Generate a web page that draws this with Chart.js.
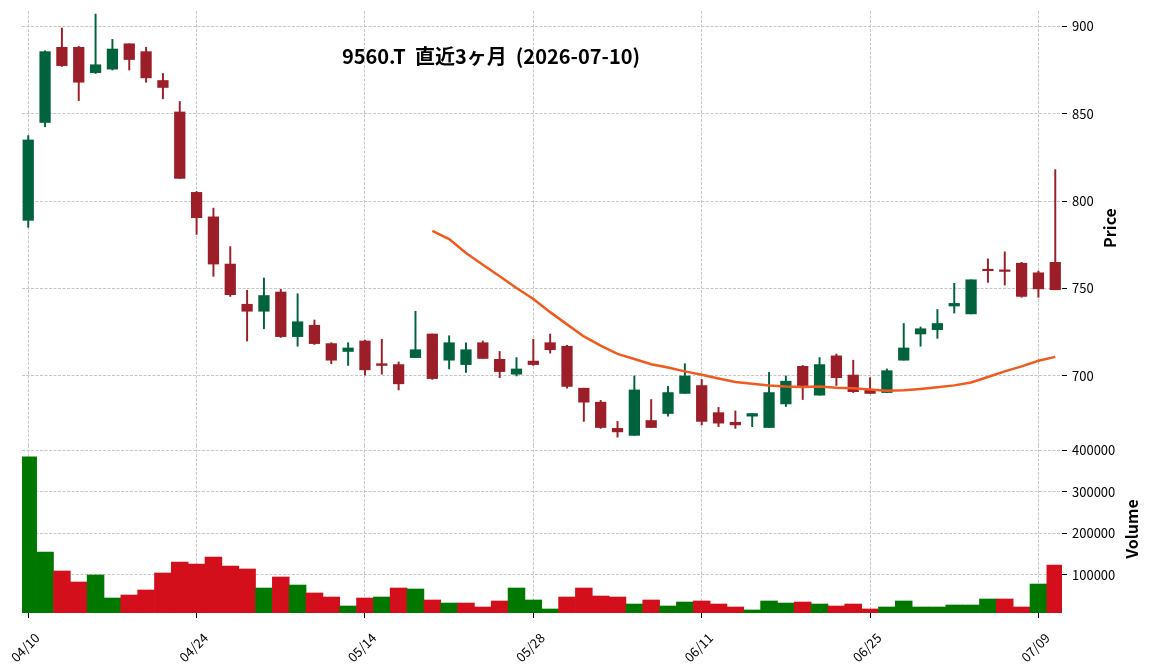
<!DOCTYPE html>
<html><head><meta charset="utf-8">
<script src="https://cdn.jsdelivr.net/npm/chart.js@4.4.1/dist/chart.umd.min.js"></script>
<style>
html,body{margin:0;padding:0;background:#fff;}
#wrap{position:relative;width:1152px;height:670px;overflow:hidden;background:#fff;}
canvas{position:absolute;left:0;}
#c1{top:0;}
#c2{top:430px;}
</style></head><body>
<div id="wrap"><canvas id="c1" width="1152" height="445"></canvas><canvas id="c2" width="1152" height="240"></canvas></div>
<script>
const titleText = '9560.T  直近3ヶ月  (2026-07-10)';
const dates = ['04/10','04/13','04/14','04/15','04/16','04/17','04/20','04/21','04/22','04/23','04/24',
 '04/27','04/28','04/30','05/01','05/07','05/08','05/11','05/12','05/13','05/14',
 '05/15','05/18','05/19','05/20','05/21','05/22','05/25','05/26','05/27','05/28',
 '05/29','06/01','06/02','06/03','06/04','06/05','06/08','06/09','06/10','06/11',
 '06/12','06/15','06/16','06/17','06/18','06/19','06/22','06/23','06/24','06/25',
 '06/26','06/29','06/30','07/01','07/02','07/03','07/06','07/07','07/08','07/09','07/10'];
const opens  = [789,845,888,888,873.5,875.5,890,885.5,869,851,805,791,764,741,737,748,722.5,729,718.5,714,720,707,706.5,710.5,724,709,706.5,719,709.5,701,708.5,719,717,693,685,670,666,674.5,678.5,690,694.5,679,673.5,677,670.5,684,705.5,689,711.5,700.5,692,690.5,709,724,726.5,740,735.5,760.8,760.5,764.5,759,765];
const highs  = [837.5,886,899,888.5,907,892.5,890,888,873,857,805.5,796,774,749,756,749.5,747,732,719,719,720.5,721,708,737,724,723,719,720,714,710.5,721,724,717.5,693,686,674,700,686.5,694,707,698,682,680,678.5,702,700,706,710.5,712.5,709,699,704,730,728,738,753,755,767,771,765,760,818];
const lows   = [785,842.5,877,857.5,873,875,875,868,858.5,813,781,757,745.5,720,727,722,717,718,707,706,700.5,701,692,710.5,698,704,702,710,699,700,706,713,693,674,670,665,666,670.5,677,690,672,671,670,671,670.5,682.5,686.5,689,694.5,690.5,690,690.5,709,717,721.5,736,735.5,753.5,752,745,745,749.3];
const closes = [835,885.5,877.5,868,878,887,881,870.5,865,813,790.5,764,746.5,737,746,722.5,731,718.5,709,716,703.5,706,695.5,715,698.5,719,715,710,702.5,704,706.5,715,694,685,670.5,668,692,670.5,690.5,700,674,673,672,678.5,690.5,697,694.5,706.5,699,691,690,703,716,727,730,741.5,755,760.2,759.8,745.5,749.8,749.3];
const volumes = [384000,154800,108900,82400,99300,43800,51000,63100,104100,130600,125800,142700,121000,113800,67900,94500,75100,55900,46200,24500,43800,46200,67900,65500,39000,31700,31700,22100,36600,67900,39000,17300,46200,67900,48600,46200,29300,39000,24500,34100,36600,29300,22100,14900,36600,31700,34100,29300,24500,29300,17300,22100,36600,22100,22100,26900,26900,41400,41400,22100,77500,123400];
const ma25 = [null,null,null,null,null,null,null,null,null,null,null,null,null,null,null,null,null,null,null,null,null,null,null,null,
 783,778.3,770.3,763.6,757,750.3,744,736.5,729.5,722.6,717.3,712.6,709.7,706.7,704.8,702.6,700.7,698.5,696.5,695.6,694.6,694,693.7,694,693.3,693,692.2,691.6,691.8,692.6,693.5,694.6,696.3,699.4,702.6,705.5,708.7,710.9];
const xTickIdx = [0,10,20,30,40,50,60];
const priceTicks = [700,750,800,850,900];
const volTicks = [100000,200000,300000,400000];

const FONT = '"Noto Sans CJK JP", "Noto Sans", sans-serif';
const UP = '#00633d', DOWN = '#9c1e29', VUP = '#007800', VDOWN = '#d40f1c', MA = '#f15a1e';
const GRID = '#c6c6c6';
const candleCol = opens.map((o,i)=> closes[i] > o ? UP : DOWN);
const volCol = volumes.map((v,i)=> i===0 ? (closes[0]>=opens[0]?VUP:VDOWN) : (closes[i] >= closes[i-1] ? VUP : VDOWN));

function fixW(w){ return s => { s.width = w; s.paddingTop=0; s.paddingBottom=0; s.paddingLeft=0; s.paddingRight=0; }; }
function fixH(h){ return s => { s.height = h; s.paddingTop=0; s.paddingBottom=0; s.paddingLeft=0; s.paddingRight=0; }; }
function setTicks(arr){ return s => { s.ticks = arr.map(v=>({value:v})); }; }

const XMIN = -0.37, XMAX = 61.4;

function draw(){
  Chart.defaults.font.family = FONT;
  Chart.defaults.font.size = 13;
  Chart.defaults.color = '#000';

  const txt1 = { id:'txt1', afterDraw(chart){
    const c = chart.ctx; c.save(); c.fillStyle = '#000';
    c.font = 'bold 20px ' + FONT; c.textAlign = 'center'; c.textBaseline = 'middle';
    c.fillText(titleText, 491, 56);
    c.translate(1110, 228); c.rotate(-Math.PI/2);
    c.font = 'bold 16px ' + FONT; c.fillText('Price', 0, 0);
    c.restore();
  }};
  const txt2 = { id:'txt2', afterDraw(chart){
    const c = chart.ctx; c.save(); c.fillStyle = '#000';
    c.translate(1132, 99); c.rotate(-Math.PI/2);
    c.font = 'bold 16px ' + FONT; c.textAlign = 'center'; c.textBaseline = 'middle';
    c.fillText('Volume', 0, 0);
    c.restore();
  }};

  new Chart(document.getElementById('c1'), {
    type: 'bar',
    data: { datasets: [
      { type:'line', data: ma25.map((v,i)=>({x:i,y:v})), borderColor: MA, borderWidth: 2.5, pointRadius: 0, tension: 0, order: 1, spanGaps: false },
      { type:'bar', data: opens.map((o,i)=>({x:i,y:[o,closes[i]]})), backgroundColor: candleCol, barThickness: 10.6, minBarLength: 1.5, grouped: false, order: 2 },
      { type:'bar', data: lows.map((l,i)=>({x:i,y:[l,highs[i]]})), backgroundColor: candleCol, barThickness: 1.3, grouped: false, order: 3 }
    ]},
    options: {
      responsive: false, animation: false, devicePixelRatio: 1,
      layout: { padding: { left: 22, top: 11, right: 0, bottom: 0 } },
      plugins: { legend: { display: false }, tooltip: { enabled: false } },
      scales: {
        x: { type: 'linear', offset: false, min: XMIN, max: XMAX, afterFit: fixH(0), afterBuildTicks: setTicks(xTickIdx),
             ticks: { display: false }, grid: { offset: false, color: GRID, lineWidth: 1, drawTicks: false }, border: { display: false, dash: [3,1.5] } },
        y: { type: 'linear', position: 'right', min: 660.5, max: 908.75, afterFit: fixW(90), afterBuildTicks: setTicks(priceTicks),
             ticks: { padding: 5, font: { size: 13 }, color: '#000' },
             grid: { color: GRID, lineWidth: 1, tickLength: 5, tickColor: '#000', tickWidth: 1 }, border: { display: false, dash: [3,1.5] } }
      }
    },
    plugins: [txt1]
  });

  new Chart(document.getElementById('c2'), {
    type: 'bar',
    data: { datasets: [
      { data: volumes.map((v,i)=>({x:i,y:v})), backgroundColor: volCol, barPercentage: 1, categoryPercentage: 1, borderWidth: 0 }
    ]},
    options: {
      responsive: false, animation: false, devicePixelRatio: 1,
      layout: { padding: { left: 22, top: 15, right: 0, bottom: 0 } },
      plugins: { legend: { display: false }, tooltip: { enabled: false } },
      scales: {
        x: { type: 'linear', offset: false, min: XMIN, max: XMAX, afterFit: fixH(57), afterBuildTicks: setTicks(xTickIdx),
             ticks: { autoSkip: false, minRotation: 45, maxRotation: 45, padding: 12, labelOffset: 9, color: '#000', font: { size: 13 },
                      callback: v => dates[v] },
             grid: { offset: false, color: GRID, lineWidth: 1, tickLength: 5, tickColor: '#000', tickWidth: 1 }, border: { display: false, dash: [3,1.5] } },
        y: { type: 'linear', position: 'right', min: 7636, max: 412800, afterFit: fixW(90), afterBuildTicks: setTicks(volTicks),
             ticks: { padding: 5, color: '#000', font: { size: 13 }, callback: v => String(v) },
             grid: { color: GRID, lineWidth: 1, tickLength: 5, tickColor: '#000', tickWidth: 1 }, border: { display: false, dash: [3,1.5] } }
      }
    },
    plugins: [txt2]
  });
}

if (document.fonts && document.fonts.load) {
  Promise.all([document.fonts.load('13px "Noto Sans CJK JP"'), document.fonts.load('bold 20px "Noto Sans CJK JP"')])
    .then(draw, draw);
} else { draw(); }
</script>
</body></html>
